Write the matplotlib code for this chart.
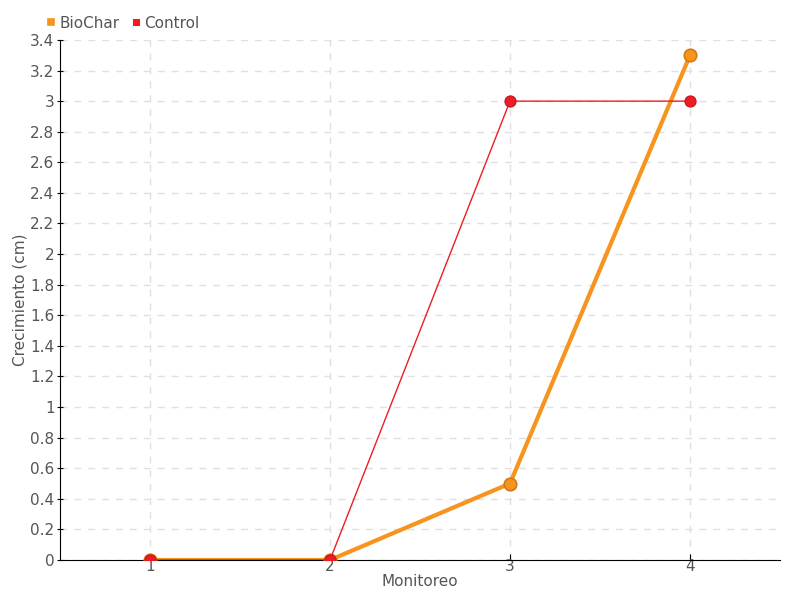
import numpy as np
import matplotlib.pyplot as plt

monitoreo = [1, 2, 3, 4]
biochar = [0, 0, 0.5, 3.3]
control = [0, 0, 3, 3]
yticks = [0, 0.2, 0.4, 0.6, 0.8, 1, 1.2, 1.4, 1.6, 1.8, 2, 2.2, 2.4, 2.6, 2.8, 3, 3.2, 3.4]
ytick_labels = ['0', '0.2', '0.4', '0.6', '0.8', '1', '1.2', '1.4', '1.6', '1.8',
                '2', '2.2', '2.4', '2.6', '2.8', '3', '3.2', '3.4']

plt.rcParams['font.family'] = ['DejaVu Sans']
txt = '#555555'

fig = plt.figure(figsize=(8, 6), dpi=100)
ax = fig.add_axes([0.075, 0.0667, 0.9, 0.8667])

ax.plot(monitoreo, biochar, color='#f7941d', lw=3, marker='o', ms=9,
        mfc='#f7941d', mec='#d27a12', mew=1.2, label='BioChar', zorder=3)
ax.plot(monitoreo, control, color='#ee1c25', lw=1, marker='o', ms=8,
        mfc='#ee1c25', mec='#cc1018', mew=0.8, label='Control', zorder=4)

ax.set_xlim(0.5, 4.5)
ax.set_ylim(0, 3.4)
ax.set_xticks(monitoreo)
ax.set_yticks(yticks)
ax.set_yticklabels(ytick_labels)
ax.grid(True, ls=(0, (5, 5)), color='#e0e0e0', lw=1)
ax.set_axisbelow(True)
for s in ['top', 'right']:
    ax.spines[s].set_visible(False)
ax.spines['left'].set_color('black')
ax.spines['bottom'].set_color('black')
ax.tick_params(axis='y', length=4, direction='inout', labelsize=11, labelcolor=txt, pad=2)
ax.tick_params(axis='x', length=4, direction='in', labelsize=11, labelcolor=txt, pad=-1)

ax.set_ylabel('Crecimiento (cm)', fontsize=11, color=txt, labelpad=2)
ax.set_xlabel('Monitoreo', fontsize=11, color=txt, labelpad=0)

leg = ax.legend(loc='lower left', bbox_to_anchor=(-0.03, 1.0), ncol=2, frameon=False,
                fontsize=11, handlelength=0.5, handletextpad=0.3, columnspacing=0.8,
                borderaxespad=0.2)
for h, c in zip(leg.legend_handles, ['#f7941d', '#ee1c25']):
    h.set_linestyle('none')
    h.set_marker('s')
    h.set_markersize(5)
    h.set_markerfacecolor(c)
    h.set_markeredgecolor(c)
for t in leg.get_texts():
    t.set_color(txt)

fig.savefig('out.png', dpi=100)
